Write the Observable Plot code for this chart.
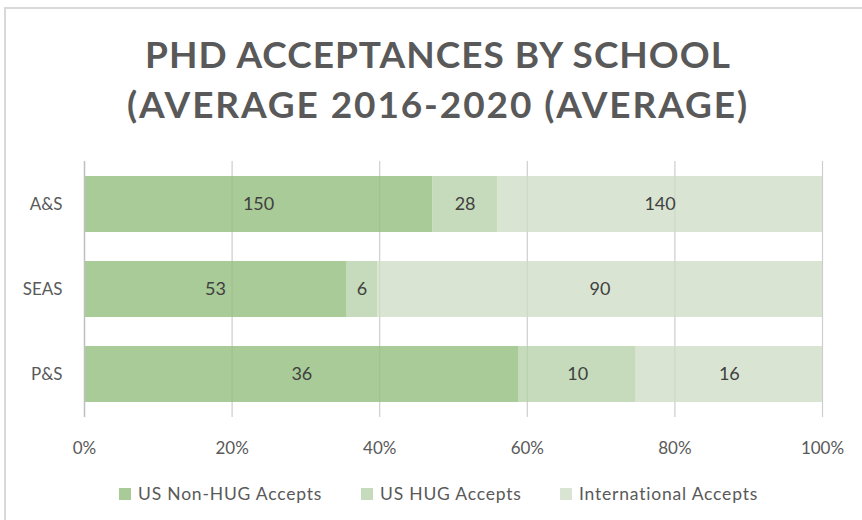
<!DOCTYPE html>
<html>
<head>
<meta charset="utf-8">
<script src="https://cdn.jsdelivr.net/npm/d3@7"></script>
<script src="https://cdn.jsdelivr.net/npm/@observablehq/plot@0.6"></script>
<style>
  html, body { margin: 0; padding: 0; background: #fff; }
  #wrap { position: relative; width: 862px; height: 520px; overflow: hidden; font-family: Lato, "Open Sans", sans-serif; }
  #frame { position: absolute; left: 4px; top: 7px; width: 900px; height: 600px; border: 2px solid #d9d9d9; box-sizing: border-box; }
  #title { position: absolute; left: 0; width: 876px; top: 29px; text-align: center; font-weight: 700; font-size: 37px; line-height: 50px; color: #595959; }
  #title .l1 { letter-spacing: 1px; }
  #title .l2 { letter-spacing: 1.9px; }
  #chart { position: absolute; left: 0; top: 0; }
  .leg { position: absolute; top: 483px; font-size: 17.5px; letter-spacing: 0.8px; color: #595959; display: flex; align-items: center; white-space: nowrap; }
  .leg span.sw { width: 12px; height: 12px; display: inline-block; margin-right: 7px; }
</style>
</head>
<body>
<div id="wrap">
  <div id="frame"></div>
  <div id="title"><span class="l1">PHD ACCEPTANCES BY SCHOOL</span><br><span class="l2">(AVERAGE 2016-2020 (AVERAGE)</span></div>
  <div id="chart"></div>
  <div id="legend"></div>
</div>
<script>
const schools = ["A&S", "SEAS", "P&S"];
const series = ["US Non-HUG Accepts", "US HUG Accepts", "International Accepts"];
const nonHug = [150, 53, 36.4];
const hug = [28, 6.3, 9.8];
const intl = [140, 90, 15.6];
const xTicks = [0, 0.2, 0.4, 0.6, 0.8, 1];
const colors = ["#a9cb98", "#c5dbbb", "#d9e5d2"];

const valuesBySeries = [nonHug, hug, intl];
const data = [];
series.forEach((s, si) => schools.forEach((sc, i) => data.push({school: sc, type: s, value: valuesBySeries[si][i]})));

const stackOpts = {x: "value", y: "school", z: "type", offset: "normalize", order: series};

const chart = Plot.plot({
  width: 862,
  height: 520,
  marginTop: 161,
  marginBottom: 103,
  marginLeft: 84,
  marginRight: 40,
  style: {fontFamily: "Lato, 'Open Sans', sans-serif", color: "#595959", background: "transparent"},
  x: {domain: [0, 1], axis: null, label: null},
  y: {domain: schools, paddingInner: 0.345, paddingOuter: 0.175, axis: null, label: null},
  color: {domain: series, range: colors},
  marks: [
    Plot.ruleX(xTicks.slice(1), {stroke: "#d9d9d9", strokeWidth: 1.2}),
    Plot.barX(data, Plot.stackX({...stackOpts, fill: "type"})),
    Plot.ruleX(xTicks.slice(1), {stroke: "#000", strokeOpacity: 0.05, strokeWidth: 1.2}),
    Plot.ruleX([0], {stroke: "#bfbfbf", strokeWidth: 1.5}),
    Plot.textX(data, Plot.stackX({...stackOpts, text: d => d3.format(".0f")(d.value), fill: "#404040", fontSize: 18})),
    Plot.axisX({ticks: xTicks, tickFormat: d3.format(".0%"), tickSize: 0, tickPadding: 24, fontSize: 17, fill: "#595959", label: null, style: {letterSpacing: "1.5px"}}),
    Plot.axisY({tickSize: 0, tickPadding: 22, fontSize: 17, fill: "#595959", label: null})
  ]
});
document.getElementById("chart").appendChild(chart);

const legendLefts = [119, 361, 560];
const legend = document.getElementById("legend");
series.forEach((s, i) => {
  const d = document.createElement("div");
  d.className = "leg";
  d.style.left = legendLefts[i] + "px";
  d.innerHTML = `<span class="sw" style="background:${colors[i]}"></span>${s}`;
  legend.appendChild(d);
});
</script>
</body>
</html>
